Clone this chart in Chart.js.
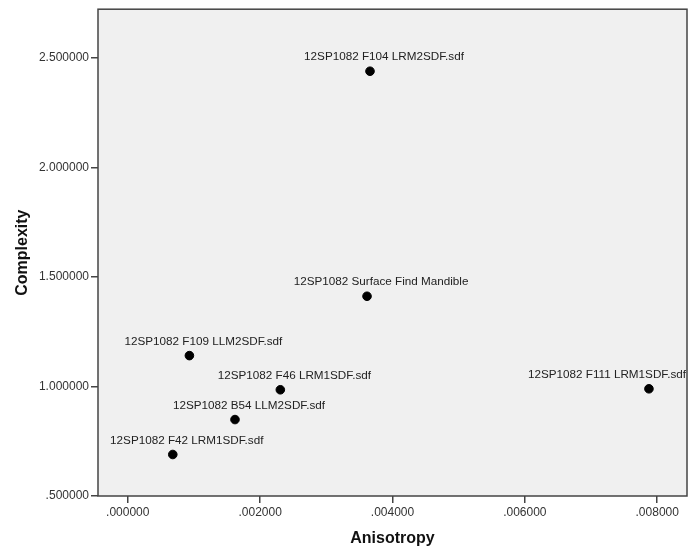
<!DOCTYPE html>
<html>
<head>
<meta charset="utf-8">
<script src="https://cdn.jsdelivr.net/npm/chart.js@4"></script>
<style>
	html, body { margin: 0; padding: 0; background: #fff; }
	#wrap { width: 695px; height: 548px; }
</style>
</head>
<body>
<div id="wrap"><canvas id="scatterChart"></canvas></div>
<script>
// Data
let fileNames = [
	'12SP1082 F104 LRM2SDF.sdf',
	'12SP1082 Surface Find Mandible',
	'12SP1082 F109 LLM2SDF.sdf',
	'12SP1082 F46 LRM1SDF.sdf',
	'12SP1082 B54 LLM2SDF.sdf',
	'12SP1082 F42 LRM1SDF.sdf',
	'12SP1082 F111 LRM1SDF.sdf',
];
let anisotropy = [0.00366, 0.003615, 0.000931, 0.002305, 0.00162, 0.00068, 0.007875];
let complexity = [2.4395, 1.412, 1.141, 0.985, 0.849, 0.6895, 0.9895];

let xTicks = [0, 0.002, 0.004, 0.006, 0.008];
let yTicks = [0.5, 1.0, 1.5, 2.0, 2.5];

// SPSS style number: 0.500000 -> .500000
function fmt(v) {
	let s = v.toFixed(6);
	return s.startsWith('0.') ? s.slice(1) : s;
}

let font = "'Liberation Sans', Arial, sans-serif";

// Grey plot box with dark border
let boxPlugin = {
	id: 'box',
	beforeDraw(chart) {
		let { ctx, chartArea: a } = chart;
		ctx.save();
		ctx.fillStyle = '#f0f0f0';
		ctx.fillRect(a.left, a.top, a.right - a.left, a.bottom - a.top);
		ctx.restore();
	},
	afterDraw(chart) {
		let { ctx, chartArea: a } = chart;
		ctx.save();
		ctx.strokeStyle = '#444';
		ctx.lineWidth = 1.5;
		ctx.strokeRect(a.left, a.top, a.right - a.left, a.bottom - a.top);
		ctx.restore();
	}
};

// Point labels up and to the right of each dot, kept inside the plot box
let labelPlugin = {
	id: 'pointLabels',
	afterDatasetsDraw(chart) {
		let { ctx, chartArea: a } = chart;
		let meta = chart.getDatasetMeta(0);
		ctx.save();
		ctx.font = '11.7px ' + font;
		ctx.fillStyle = '#222';
		ctx.textBaseline = 'middle';
		ctx.textAlign = 'left';
		meta.data.forEach((pt, i) => {
			let text = fileNames[i];
			let w = ctx.measureText(text).width;
			let x = pt.x + 14 - w / 2;
			if (x + w > a.right - 1) x = a.right - 1 - w;
			if (x < a.left + 1) x = a.left + 1;
			ctx.fillText(text, x, pt.y - 14);
		});
		ctx.restore();
	}
};

let chart = new Chart(document.querySelector('#scatterChart'), {
	type: 'scatter',
	data: {
		datasets: [{
			data: anisotropy.map((x, i) => ({ x: x, y: complexity[i] })),
			backgroundColor: '#000',
			borderColor: '#000',
			pointRadius: 4.3,
			pointHoverRadius: 4.3,
		}]
	},
	options: {
		responsive: true,
		maintainAspectRatio: false,
		animation: false,
		layout: { padding: { top: 8, right: 8, left: 0, bottom: 0 } },
		plugins: {
			legend: { display: false },
			tooltip: { enabled: false },
		},
		scales: {
			x: {
				type: 'linear',
				min: -0.00045,
				max: 0.00845,
				afterBuildTicks: s => { s.ticks = xTicks.map(v => ({ value: v })); },
				afterFit: s => { s.height = 52; },
				grid: { drawOnChartArea: false, drawTicks: true, tickLength: 7, color: '#444', lineWidth: 1.5 },
				border: { display: false },
				ticks: {
					callback: v => fmt(v),
					color: '#333',
					font: { family: font, size: 12 },
					padding: 2,
					maxRotation: 0,
				},
				title: {
					display: true,
					text: 'Anisotropy',
					color: '#111',
					font: { family: font, size: 16, weight: 'bold' },
					padding: { top: 0, bottom: 0 },
				},
			},
			y: {
				type: 'linear',
				min: 0.5,
				max: 2.7227,
				afterBuildTicks: s => { s.ticks = yTicks.map(v => ({ value: v })); },
				afterFit: s => { s.width = 98; },
				grid: { drawOnChartArea: false, drawTicks: true, tickLength: 7, color: '#444', lineWidth: 1.5 },
				border: { display: false },
				ticks: {
					callback: v => fmt(v),
					color: '#333',
					font: { family: font, size: 12 },
					padding: 2,
				},
				title: {
					display: true,
					text: 'Complexity',
					color: '#111',
					font: { family: font, size: 16, weight: 'bold' },
					padding: { top: 13, bottom: 0 },
				},
			},
		},
	},
	plugins: [boxPlugin, labelPlugin],
});
</script>
</body>
</html>
